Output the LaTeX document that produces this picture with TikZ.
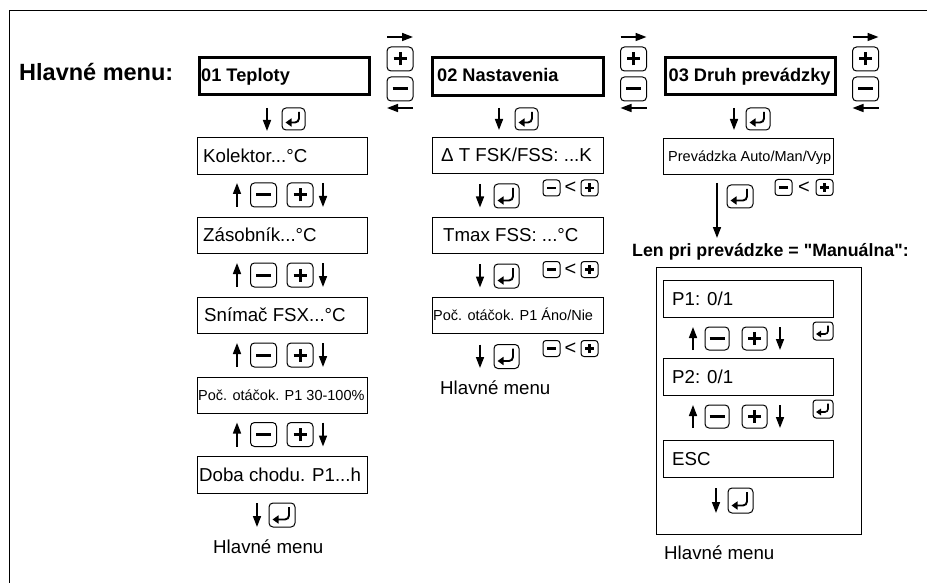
\documentclass[tikz,border=0pt]{standalone}
\usepackage{fontspec}
\setmainfont{Liberation Sans}
\usetikzlibrary{arrows.meta,calc}
\newcommand\straightquote{\XeTeXglyph\XeTeXcharglyph"22\relax}
\tikzset{
  framestyle/.style={line width=1pt},
  menubox/.style={draw, line width=1pt, anchor=north west, inner sep=0pt},
  titlebox/.style={draw, line width=3pt, anchor=north west, inner sep=0pt},
  rtxt/.style={font=\fontsize{18.7}{20}\selectfont, anchor=west, inner sep=0pt, text height=13.3pt, text depth=0pt},
  stxt/.style={font=\fontsize{14.5}{16}\selectfont, anchor=west, inner sep=0pt, text height=10.4pt, text depth=0pt},
  btxt/.style={font=\fontsize{18.2}{20}\selectfont\bfseries, anchor=west, inner sep=0pt, text height=13pt, text depth=0pt},
  htxt/.style={font=\fontsize{23.5}{26}\selectfont\bfseries, anchor=west, inner sep=0pt, text height=16.8pt, text depth=0pt},
  lttxt/.style={font=\fontsize{20}{22}\selectfont, inner sep=0pt},
  arr/.style={line width=1.6pt, -{Triangle[length=11pt,width=8pt]}},
  keybig/.style={draw, line width=1pt, rounded corners=4pt, minimum width=26pt, minimum height=24pt, inner sep=0pt},
  keysmall/.style={draw, line width=1pt, rounded corners=3pt, minimum width=17pt, minimum height=16pt, inner sep=0pt},
  kminus/.style={keybig, path picture={\draw[line width=3pt] ([xshift=-7.5pt]path picture bounding box.center) -- ([xshift=7.5pt]path picture bounding box.center);}},
  kplus/.style={keybig, path picture={\draw[line width=3pt] ([xshift=-6.5pt]path picture bounding box.center) -- ([xshift=6.5pt]path picture bounding box.center) ([yshift=-6.5pt]path picture bounding box.center) -- ([yshift=6.5pt]path picture bounding box.center);}},
  kminuss/.style={keysmall, path picture={\draw[line width=2.8pt] ([xshift=-4.5pt]path picture bounding box.center) -- ([xshift=4.5pt]path picture bounding box.center);}},
  kpluss/.style={keysmall, path picture={\draw[line width=2.5pt] ([xshift=-4.5pt]path picture bounding box.center) -- ([xshift=4.5pt]path picture bounding box.center) ([yshift=-4.5pt]path picture bounding box.center) -- ([yshift=4.5pt]path picture bounding box.center);}},
  kenter/.style={keybig, path picture={\draw[line width=1.9pt, -{Triangle[length=6pt,width=8pt]}] ([xshift=-6pt,yshift=-4pt]path picture bounding box.north east) -- ([xshift=-6pt,yshift=7.5pt]path picture bounding box.south east) -- ([xshift=3.5pt,yshift=7.5pt]path picture bounding box.south west);}},
  kenters/.style={draw, line width=1pt, rounded corners=3pt, minimum width=20pt, minimum height=18pt, inner sep=0pt, path picture={\draw[line width=1.6pt, -{Triangle[length=5pt,width=6.5pt]}] ([xshift=-5pt,yshift=-3.5pt]path picture bounding box.north east) -- ([xshift=-5pt,yshift=6pt]path picture bounding box.south east) -- ([xshift=3pt,yshift=6pt]path picture bounding box.south west);}},
}
\begin{document}
\begin{tikzpicture}[x=1pt,y=-1pt]
\useasboundingbox (0,0) rectangle (927,583);
% frame
\coordinate (frbl) at (9,583);
\coordinate (frtl) at (9,11);
\coordinate (frtr) at (927,11);
\draw[framestyle] (frbl) -- (frtl) -- (frtr);

\node[htxt] (hm) at (19,72) {Hlavné menu:};

% ---------- titles ----------
\node[titlebox, minimum width=170pt, minimum height=37pt] (t01) at (197.5,56.5) {};
\node[btxt] (t01t) at (201,75) {01 Teploty};
\node[titlebox, minimum width=171pt, minimum height=38pt] (t02) at (430.5,56.5) {};
\node[btxt] (t02t) at (437,75.5) {02 Nastavenia};
\node[titlebox, minimum width=170pt, minimum height=37pt] (t03) at (663.5,56.5) {};
\node[btxt] (t03t) at (668.5,75) {03 Druh prevádzky};

% top-right key groups
\foreach \n/\x in {a/400,b/633.5,c/865.5}{
  \node[kplus] (tp\n) at (\x,59) {};
  \node[kminus] (tm\n) at (\x,89) {};
  \coordinate (ra\n) at (\x-13,37);
  \coordinate (rb\n) at (\x+13,37);
  \coordinate (la\n) at (\x+13,108);
  \coordinate (lb\n) at (\x-13,108);
  \draw[arr] (ra\n) -- (rb\n);
  \draw[arr] (la\n) -- (lb\n);
}

% ---------- column 1 ----------
\draw[arr] (267,108) -- (267,131);
\node[kenter, minimum width=23pt, minimum height=22pt] (e1a) at (293.5,119) {};

\node[menubox, minimum width=170pt, minimum height=37pt] (kol) at (197,137) {};
\node[rtxt] (kolt) at (203,155.5) {Kolektor...°C};
\node[menubox, minimum width=170pt, minimum height=36pt] (zas) at (197,217) {};
\node[rtxt] (zast) at (203,235) {Zásobník...°C};
\node[menubox, minimum width=170pt, minimum height=36pt] (sni) at (197,297) {};
\node[rtxt] (snit) at (204,315) {Snímač FSX...°C};
\node[menubox, minimum width=170pt, minimum height=36pt] (poc1) at (197,377) {};
\node[stxt] (poc1t) at (198,395) {Poč. otáčok. P1 30-100\%};
\node[menubox, minimum width=170pt, minimum height=37pt] (doba) at (197,456) {};
\node[rtxt] (dobat) at (199,474.5) {Doba chodu. P1...h};

\foreach \i/\y in {1/195,2/275,3/355,4/434.5}{
  \node[kminus] (c1m\i) at (263.5,\y) {};
  \node[kplus] (c1p\i) at (300,\y) {};
  \draw[arr] (237,\y+12) -- (237,\y-12);
  \draw[arr] (323,\y-12) -- (323,\y+12);
}

\draw[arr] (257,503) -- (257,527);
\node[kenter] (e1b) at (282,515) {};
\node[rtxt] (hm1) at (213,547) {Hlavné menu};

% ---------- column 2 ----------
\draw[arr] (499,108) -- (499,130);
\node[kenter, minimum width=23pt, minimum height=22pt] (e2a) at (526.5,119) {};

\node[menubox, minimum width=171pt, minimum height=36pt] (dt) at (432,137) {};
\node[rtxt] (dtt) at (441,155) {Δ T FSK/FSS: ...K};
\node[menubox, minimum width=171pt, minimum height=36pt] (tmax) at (432,217) {};
\node[rtxt] (tmaxt) at (443,235) {Tmax FSS: ...°C};
\node[menubox, minimum width=171pt, minimum height=36pt] (poc2) at (432,297) {};
\node[stxt] (poc2t) at (433,315) {Poč. otáčok. P1 Áno/Nie};

\foreach \i/\y/\ys in {1/196/188,2/276/269.5,3/356.5/348.5}{
  \draw[arr] (480,\y-12) -- (480,\y+11.5);
  \node[kenter, minimum width=25pt] (e2\i) at (506.5,\y) {};
  \node[kminuss] (c2m\i) at (551.5,\ys) {};
  \node[lttxt] (c2l\i) at (570.5,\ys) {<};
  \node[kpluss] (c2p\i) at (589.5,\ys) {};
}
\node[rtxt] (hm2) at (440,388) {Hlavné menu};

% ---------- column 3 ----------
\draw[arr] (734,108) -- (734,130);
\node[kenter, minimum width=24pt, minimum height=22pt] (e3a) at (758,119) {};

\node[menubox, minimum width=170pt, minimum height=36pt] (prev) at (663,138) {};
\node[stxt] (prevt) at (668,156) {Prevádzka Auto/Man/Vyp};

\coordinate (la) at (717,183);
\coordinate (lb) at (717,238);
\draw[arr] (la) -- (lb);
\node[kenter, minimum width=26pt, minimum height=23pt] (e3b) at (740,196.5) {};
\node[kminuss] (c3m) at (783.5,187.5) {};
\node[lttxt] (c3l) at (804,187.5) {<};
\node[kpluss] (c3p) at (824.5,187.5) {};

\node[btxt, font=\fontsize{17.8}{20}\selectfont\bfseries] (len) at (632,250) {Len pri prevádzke = \straightquote Manuálna\straightquote:};

\node[menubox, minimum width=205pt, minimum height=267pt] (outer) at (656,267) {};
\node[menubox, minimum width=170pt, minimum height=37pt] (p1) at (663,280) {};
\node[rtxt] (p1t) at (672,298.5) {P1: 0/1};
\node[menubox, minimum width=170pt, minimum height=37pt] (p2) at (663,358) {};
\node[rtxt] (p2t) at (672,376.5) {P2: 0/1};
\node[menubox, minimum width=170pt, minimum height=37pt] (esc) at (663,440) {};
\node[rtxt] (esct) at (672,458.5) {ESC};

\foreach \i/\y/\ye in {1/338.5/331,2/416.5/409}{
  \draw[arr] (693,\y+11.5) -- (693,\y-11.5);
  \node[kminus, minimum width=24pt, minimum height=23pt] (c3m\i) at (717,\y) {};
  \node[kplus, minimum width=25pt, minimum height=23pt] (c3p\i) at (754.5,\y) {};
  \draw[arr] (780,\y-11.5) -- (780,\y+11.5);
  \node[kenters] (c3e\i) at (823,\ye) {};
}

\draw[arr] (716,488) -- (716,513);
\node[kenter, minimum width=25pt, minimum height=25pt] (e3c) at (740.5,500.5) {};
\node[rtxt] (hm3) at (664,553) {Hlavné menu};
\end{tikzpicture}
\end{document}
